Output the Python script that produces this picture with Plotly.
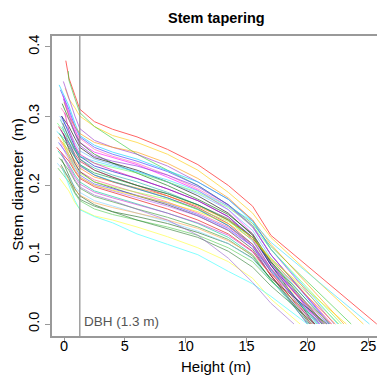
import plotly.graph_objects as go

# Common measurement heights (m) along each stem
grid_heights = [0.4, 0.9, 1.3, 2.5, 4, 6, 8.5, 11, 13.5, 15.5, 17]

# Per-tree first measurement (height, diameter) and total height (m)
start_heights = [0.15, 0.10, 0.35, -0.05, -0.30, -0.40, -0.10, -0.20, -0.15, 0.00,
                 -0.25, -0.35, -0.05, -0.55, -0.45, -0.20, -0.60, -0.30, 0.05, -0.10,
                 -0.40, -0.25, -0.50, -0.15, -0.35, -0.05, -0.45, -0.20, -0.60, -0.30,
                 -0.10, -0.50, -0.25, -0.40, -0.20, -0.55, -0.30, -0.50, -0.25, -0.35,
                 -0.15, -0.20]
start_diams = [0.380, 0.340, 0.365, 0.350, 0.338, 0.345, 0.330, 0.300, 0.318, 0.320,
               0.312, 0.300, 0.325, 0.290, 0.285, 0.300, 0.278, 0.295, 0.305, 0.290,
               0.275, 0.280, 0.270, 0.285, 0.265, 0.275, 0.262, 0.270, 0.255, 0.260,
               0.262, 0.250, 0.248, 0.240, 0.238, 0.232, 0.228, 0.225, 0.230, 0.210,
               0.225, 0.245]
top_heights = [25.7, 24.6, 23.6, 22.2, 21.8, 22.5, 21.0, 20.6, 21.4, 23.0,
               22.0, 21.6, 21.9, 22.8, 20.3, 21.2, 25.1, 20.9, 20.5, 21.3,
               21.8, 20.0, 22.3, 20.8, 21.5, 20.2, 21.0, 22.6, 20.6, 21.7,
               23.2, 20.1, 21.3, 20.4, 21.6, 20.7, 22.0, 21.2, 20.6, 19.4,
               20.0, 18.9]

# Diameters (m) at grid_heights for each tree
diam_profiles = [
    [0.355, 0.330, 0.310, 0.292, 0.281, 0.270, 0.252, 0.230, 0.200, 0.170, 0.128],
    [0.325, 0.312, 0.300, 0.285, 0.272, 0.262, 0.245, 0.222, 0.190, 0.160, 0.125],
    [0.352, 0.325, 0.305, 0.285, 0.268, 0.245, 0.222, 0.200, 0.172, 0.145, 0.112],
    [0.325, 0.300, 0.282, 0.265, 0.255, 0.245, 0.228, 0.205, 0.180, 0.150, 0.108],
    [0.310, 0.285, 0.270, 0.255, 0.245, 0.235, 0.220, 0.200, 0.172, 0.140, 0.100],
    [0.315, 0.290, 0.272, 0.258, 0.248, 0.238, 0.222, 0.205, 0.180, 0.148, 0.108],
    [0.305, 0.280, 0.262, 0.248, 0.240, 0.230, 0.212, 0.193, 0.165, 0.130, 0.088],
    [0.285, 0.268, 0.255, 0.240, 0.232, 0.222, 0.205, 0.185, 0.160, 0.128, 0.085],
    [0.295, 0.275, 0.262, 0.245, 0.232, 0.218, 0.200, 0.180, 0.158, 0.130, 0.090],
    [0.300, 0.285, 0.275, 0.262, 0.255, 0.248, 0.232, 0.210, 0.182, 0.150, 0.115],
    [0.295, 0.278, 0.268, 0.252, 0.242, 0.232, 0.215, 0.195, 0.170, 0.140, 0.100],
    [0.280, 0.262, 0.250, 0.238, 0.230, 0.220, 0.205, 0.188, 0.165, 0.135, 0.095],
    [0.300, 0.275, 0.258, 0.242, 0.235, 0.228, 0.215, 0.198, 0.172, 0.142, 0.100],
    [0.268, 0.252, 0.242, 0.232, 0.226, 0.218, 0.205, 0.190, 0.168, 0.142, 0.108],
    [0.262, 0.245, 0.235, 0.222, 0.212, 0.200, 0.185, 0.168, 0.145, 0.115, 0.075],
    [0.275, 0.255, 0.242, 0.228, 0.220, 0.210, 0.195, 0.178, 0.155, 0.125, 0.085],
    [0.262, 0.250, 0.242, 0.235, 0.228, 0.220, 0.208, 0.192, 0.170, 0.148, 0.118],
    [0.270, 0.250, 0.238, 0.225, 0.215, 0.205, 0.190, 0.172, 0.150, 0.120, 0.080],
    [0.280, 0.258, 0.245, 0.232, 0.222, 0.210, 0.195, 0.178, 0.155, 0.122, 0.080],
    [0.268, 0.250, 0.238, 0.222, 0.212, 0.200, 0.188, 0.172, 0.152, 0.125, 0.088],
    [0.255, 0.240, 0.230, 0.218, 0.210, 0.200, 0.188, 0.172, 0.150, 0.125, 0.090],
    [0.258, 0.240, 0.228, 0.215, 0.205, 0.195, 0.182, 0.166, 0.142, 0.112, 0.070],
    [0.250, 0.235, 0.225, 0.212, 0.205, 0.196, 0.185, 0.170, 0.150, 0.125, 0.092],
    [0.262, 0.242, 0.230, 0.215, 0.206, 0.195, 0.182, 0.165, 0.142, 0.115, 0.078],
    [0.245, 0.230, 0.220, 0.208, 0.200, 0.190, 0.176, 0.160, 0.140, 0.115, 0.080],
    [0.252, 0.232, 0.220, 0.205, 0.196, 0.185, 0.172, 0.156, 0.135, 0.108, 0.070],
    [0.242, 0.226, 0.215, 0.202, 0.195, 0.186, 0.174, 0.158, 0.138, 0.112, 0.076],
    [0.245, 0.228, 0.218, 0.205, 0.198, 0.190, 0.180, 0.166, 0.148, 0.125, 0.095],
    [0.235, 0.220, 0.210, 0.198, 0.190, 0.180, 0.166, 0.150, 0.130, 0.105, 0.070],
    [0.238, 0.222, 0.212, 0.200, 0.192, 0.182, 0.170, 0.156, 0.136, 0.112, 0.080],
    [0.240, 0.222, 0.212, 0.200, 0.193, 0.185, 0.175, 0.162, 0.145, 0.122, 0.094],
    [0.230, 0.215, 0.205, 0.192, 0.184, 0.174, 0.160, 0.145, 0.125, 0.100, 0.064],
    [0.228, 0.212, 0.202, 0.190, 0.182, 0.172, 0.160, 0.146, 0.128, 0.104, 0.072],
    [0.222, 0.206, 0.196, 0.184, 0.176, 0.166, 0.154, 0.140, 0.122, 0.098, 0.064],
    [0.215, 0.195, 0.185, 0.172, 0.162, 0.155, 0.145, 0.132, 0.116, 0.095, 0.066],
    [0.212, 0.198, 0.190, 0.178, 0.170, 0.160, 0.148, 0.134, 0.116, 0.094, 0.062],
    [0.208, 0.194, 0.186, 0.175, 0.168, 0.160, 0.150, 0.138, 0.120, 0.100, 0.072],
    [0.205, 0.188, 0.178, 0.166, 0.158, 0.150, 0.140, 0.128, 0.110, 0.090, 0.062],
    [0.210, 0.190, 0.180, 0.170, 0.162, 0.150, 0.138, 0.125, 0.105, 0.082, 0.055],
    [0.192, 0.175, 0.166, 0.156, 0.150, 0.140, 0.126, 0.110, 0.090, 0.066, 0.036],
    [0.200, 0.178, 0.165, 0.155, 0.146, 0.130, 0.115, 0.100, 0.076, 0.058, 0.040],
    [0.225, 0.208, 0.198, 0.186, 0.178, 0.166, 0.150, 0.128, 0.095, 0.060, 0.030],
]

palette = ["#FF0000", "#FFCC00", "#33CC33", "#9933CC", "#3333FF", "#00CCFF",
           "#FF00FF", "#000000", "#006600", "#FF9900", "#FF66B2", "#66B2FF",
           "#8A2BE2", "#66FF66", "#CC0033", "#0000CC", "#33E0FF", "#20B2AA",
           "#E600AC", "#555555", "#009933", "#7A1FA2", "#FF8000", "#00B3B3",
           "#FF4D94", "#333333", "#4D4DFF", "#99FF33", "#E60000", "#B266FF",
           "#FFE600", "#00CC99", "#CC33CC", "#339933", "#1A661A", "#80D4FF",
           "#FFA64D", "#4DCC4D", "#2E7D32", "#FFFF33", "#33FFFF", "#9966CC"]

fig = go.Figure()
for i in range(len(diam_profiles)):
    xs = [start_heights[i]] + grid_heights + [top_heights[i]]
    ys = [start_diams[i]] + diam_profiles[i] + [0.0]
    fig.add_trace(go.Scatter(x=xs, y=ys, mode="lines",
                             line=dict(color=palette[i % len(palette)], width=1),
                             opacity=0.6, showlegend=False, hoverinfo="skip"))

font_main = "Arial, Liberation Sans, sans-serif"
fig.update_layout(
    width=377, height=376,
    margin=dict(l=52, r=0, t=36, b=40, autoexpand=False),
    plot_bgcolor="white", paper_bgcolor="white",
    font=dict(family=font_main, size=14, color="black"),
    xaxis=dict(range=[-0.986, 25.72], tickvals=[0, 5, 10, 15, 20, 25],
               showgrid=False, zeroline=False, showline=True, linecolor="#999999",
               linewidth=1.5, mirror=True, ticks="outside", ticklen=5,
               tickcolor="#999999", tickfont=dict(size=14.5), automargin=False,
               ticklabelstandoff=-9),
    yaxis=dict(range=[-0.0173, 0.4156], tickvals=[0.0, 0.1, 0.2, 0.3, 0.4],
               ticktext=["0.0", "0.1", "0.2", "0.3", "0.4"], tickangle=-90,
               showgrid=False, zeroline=False, showline=True, linecolor="#999999",
               linewidth=1.5, ticks="outside", ticklen=5, tickcolor="#999999",
               tickfont=dict(size=14.5), automargin=False),
    shapes=[dict(type="line", xref="x", yref="paper", x0=1.3, x1=1.3, y0=0, y1=1,
                 line=dict(color="#888888", width=1.2))],
    annotations=[
        dict(text="<b>Stem tapering</b>", xref="paper", yref="paper", x=0.505, y=1.06,
             showarrow=False, font=dict(size=14.5), xanchor="center", yanchor="middle"),
        dict(text="Height (m)", xref="paper", yref="paper", x=0.505, y=-0.1,
             showarrow=False, font=dict(size=15), xanchor="center", yanchor="middle"),
        dict(text="Stem diameter \u00a0(m)", xref="paper", yref="paper", x=-0.105, y=0.507,
             showarrow=False, font=dict(size=15.5), textangle=-90,
             xanchor="center", yanchor="middle"),
        dict(text="DBH (1.3 m)", xref="x", yref="y", x=1.45, y=0.003,
             showarrow=False, font=dict(size=13.5, color="#555555"),
             xanchor="left", yanchor="middle"),
    ],
)

fig.write_html("out.html", config={"displayModeBar": False},
               post_script="document.body.style.margin='0';document.body.style.overflow='hidden';")
